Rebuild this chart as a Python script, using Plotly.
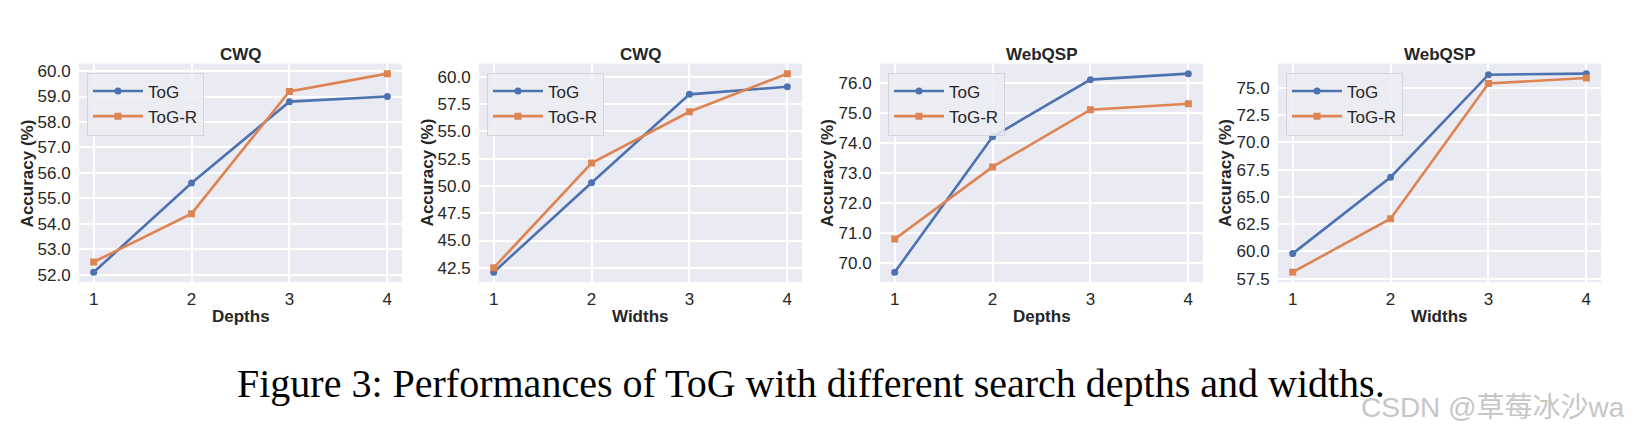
import plotly.graph_objects as go

# ---------------- data ----------------
steps = [1, 2, 3, 4]
panel_titles = ["CWQ", "CWQ", "WebQSP", "WebQSP"]
x_titles = ["Depths", "Widths", "Depths", "Widths"]
series_names = ["ToG", "ToG-R"]

tog_cwq_depth = [52.1, 55.6, 58.8, 59.0]
togr_cwq_depth = [52.5, 54.4, 59.2, 59.9]
tog_cwq_width = [42.1, 50.3, 58.4, 59.1]
togr_cwq_width = [42.5, 52.1, 56.8, 60.3]
tog_web_depth = [69.7, 74.2, 76.1, 76.3]
togr_web_depth = [70.8, 73.2, 75.1, 75.3]
tog_web_width = [59.8, 66.8, 76.2, 76.3]
togr_web_width = [58.1, 63.0, 75.4, 75.9]

y_dticks = [1.0, 2.5, 1.0, 2.5]
caption = "Figure 3: Performances of ToG with different search depths and widths."
watermark = "CSDN @草莓冰沙wa"

panels = [
    (tog_cwq_depth, togr_cwq_depth),
    (tog_cwq_width, togr_cwq_width),
    (tog_web_depth, togr_web_depth),
    (tog_web_width, togr_web_width),
]

# ---------------- layout geometry ----------------
W, H = 1645, 436
plot_left = [79, 479, 880, 1278]
plot_w = 323
plot_top, plot_bottom = 63, 286

BLUE = "#4C72B0"
ORANGE = "#DD8452"
BG = "#EAEAF2"
TXT = "#262626"
SANS = "Liberation Sans, Arial, sans-serif"

def px_x(v):
    return v / W

def px_y(v):
    return 1 - v / H

fig = go.Figure()
layout = dict(
    width=W, height=H,
    margin=dict(l=0, r=0, t=0, b=0),
    paper_bgcolor="white",
    plot_bgcolor=BG,
    font=dict(family=SANS, size=17, color=TXT),
    annotations=[],
)

for i, (a, b) in enumerate(panels):
    k = "" if i == 0 else str(i + 1)
    xa, ya = "x" + k, "y" + k
    leg = "legend" + k
    fig.add_trace(go.Scatter(
        x=steps, y=a, name=series_names[0], mode="lines+markers",
        line=dict(color=BLUE, width=2.6), marker=dict(symbol="circle", size=7, color=BLUE),
        xaxis=xa, yaxis=ya, legend=leg,
    ))
    fig.add_trace(go.Scatter(
        x=steps, y=b, name=series_names[1], mode="lines+markers",
        line=dict(color=ORANGE, width=2.6), marker=dict(symbol="square", size=7, color=ORANGE),
        xaxis=xa, yaxis=ya, legend=leg,
    ))
    lo = min(a + b)
    hi = max(a + b)
    pad = (hi - lo) * 0.05
    x0 = plot_left[i]
    x1 = x0 + plot_w
    layout["xaxis" + k] = dict(
        domain=[px_x(x0), px_x(x1)], anchor=ya,
        range=[0.85, 4.15], tickvals=steps, ticktext=[str(s) for s in steps],
        showgrid=True, gridcolor="white", gridwidth=1.5, zeroline=False,
        showline=False, ticks="outside", ticklen=2, tickcolor="rgba(0,0,0,0)",
        tickfont=dict(size=17, color=TXT),
    )
    layout["yaxis" + k] = dict(
        domain=[px_y(plot_bottom), px_y(plot_top)], anchor=xa,
        range=[lo - pad, hi + pad], dtick=y_dticks[i], tick0=0, tickformat=".1f",
        showgrid=True, gridcolor="white", gridwidth=1.5, zeroline=False,
        showline=False, ticks="outside", ticklen=4, tickcolor="rgba(0,0,0,0)",
        tickfont=dict(size=17, color=TXT),
    )
    layout[leg] = dict(
        x=px_x(x0 + 8), y=px_y(plot_top + 9), xanchor="left", yanchor="top",
        bgcolor="rgba(236,236,243,0.85)", bordercolor="#d4d4dc", borderwidth=1,
        font=dict(size=17, color=TXT), itemwidth=50,
        tracegroupgap=0,
    )
    cx = (x0 + x1) / 2
    layout["annotations"].append(dict(
        text="<b>%s</b>" % panel_titles[i], x=px_x(cx), y=px_y(54),
        xref="paper", yref="paper", xanchor="center", yanchor="middle",
        showarrow=False, font=dict(size=17, color=TXT, family=SANS),
    ))
    layout["annotations"].append(dict(
        text="<b>%s</b>" % x_titles[i], x=px_x(cx), y=px_y(321),
        xref="paper", yref="paper", xanchor="center", yanchor="middle",
        showarrow=False, font=dict(size=17, color=TXT, family=SANS),
    ))
    ytx = [27.5, 427.5, 828, 1226][i]
    layout["annotations"].append(dict(
        text="<b>Accuracy (%)</b>", x=px_x(ytx), y=px_y((plot_top + plot_bottom) / 2),
        xref="paper", yref="paper", xanchor="center", yanchor="middle", textangle=-90,
        showarrow=False, font=dict(size=17, color=TXT, family=SANS),
    ))

layout["annotations"].append(dict(
    text=caption, x=px_x(235), y=px_y(390), xref="paper", yref="paper",
    xanchor="left", yanchor="middle", showarrow=False,
    font=dict(size=40, color="black", family="Liberation Serif, Times New Roman, serif"),
))
layout["annotations"].append(dict(
    text=watermark, x=px_x(1359), y=px_y(414), xref="paper", yref="paper",
    xanchor="left", yanchor="middle", showarrow=False,
    font=dict(size=28, color="#c6c6c6", family="Liberation Sans, Noto Sans CJK SC, sans-serif"),
))

fig.update_layout(**layout)
fig.write_html(
    "out.html",
    config={"displayModeBar": False},
    post_script="document.body.style.margin='0';document.body.style.overflow='hidden';",
)
